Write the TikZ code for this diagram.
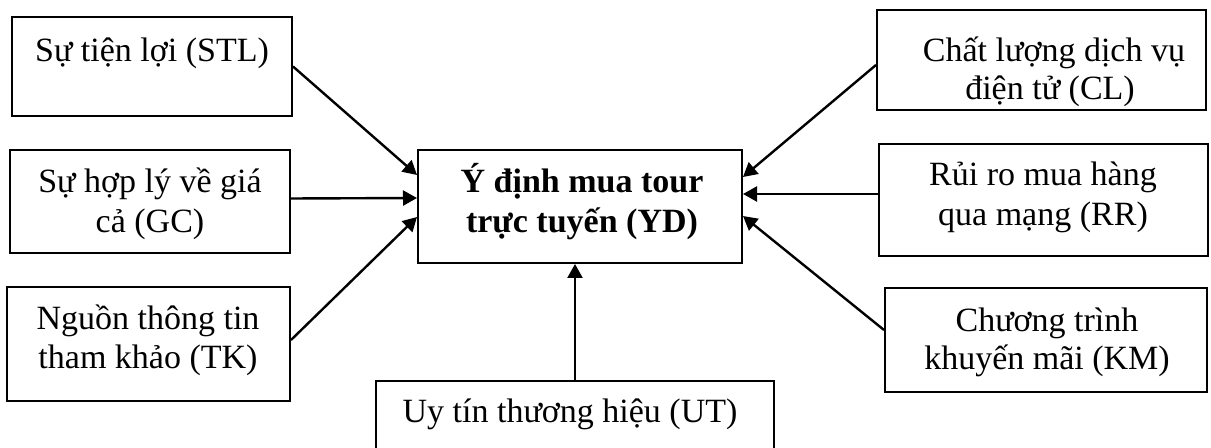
\documentclass[tikz,border=0pt]{standalone}
\usepackage{fontspec}
\setmainfont{Liberation Serif}
\usetikzlibrary{arrows.meta,calc}
\begin{document}
\begin{tikzpicture}[x=0.5pt,y=-0.5pt,
  box/.style={draw,line width=1pt,inner sep=0pt},
  lbl/.style={anchor=base,inner sep=0pt,font=\fontsize{17}{20}\selectfont},
  conn/.style={-{Triangle[length=7pt,width=7.5pt]},line width=1.2pt}]
\useasboundingbox (0,0) rectangle (1211,448);
\clip (0,0) rectangle (1211,448);
\fill[white] (0,0) rectangle (1211,448);

% factor boxes
\node[box,minimum width=140pt,minimum height=49.5pt] (stl) at (152,66.5) {};
\node[box,minimum width=140pt,minimum height=51.5pt] (gc) at (150,201.5) {};
\node[box,minimum width=141.5pt,minimum height=57pt] (tk) at (148.5,344) {};
\node[box,minimum width=164.5pt,minimum height=50pt] (cl) at (1041.5,60) {};
\node[box,minimum width=164.5pt,minimum height=56pt] (rr) at (1043.5,200) {};
\node[box,minimum width=161pt,minimum height=52pt] (km) at (1046,340) {};
\node[box,minimum width=199pt,minimum height=50pt] (ut) at (575,431) {};
% outcome box
\node[box,minimum width=162pt,minimum height=56.5pt] (yd) at (580,206.5) {};

% labels
\node[lbl] (stl-t) at (152,62) {Sự tiện lợi (STL)};
\node[lbl] (gc-t1) at (150,193) {Sự hợp lý về giá};
\node[lbl] (gc-t2) at (150,233) {cả (GC)};
\node[lbl] (tk-t1) at (148,330) {Nguồn thông tin};
\node[lbl] (tk-t2) at (148,369) {tham khảo (TK)};
\node[lbl] (cl-t1) at (1054,62) {Chất lượng dịch vụ};
\node[lbl] (cl-t2) at (1050,100) {điện tử (CL)};
\node[lbl] (rr-t1) at (1043,186) {Rủi ro mua hàng};
\node[lbl] (rr-t2) at (1043,226) {qua mạng (RR)};
\node[lbl] (km-t1) at (1047,332) {Chương trình};
\node[lbl] (km-t2) at (1047,370) {khuyến mãi (KM)};
\node[lbl] (ut-t) at (570,423) {Uy tín thương hiệu (UT)};
\node[lbl,font=\fontsize{17}{20}\selectfont\bfseries] (yd-t1) at (582,193) {Ý định mua tour};
\node[lbl,font=\fontsize{17}{20}\selectfont\bfseries] (yd-t2) at (582,233) {trực tuyến (YD)};

% influences on the intention
\draw[conn] (stl.east) -- ($(yd.west)+(0,-31.5)$);
\draw[conn] ($(gc.east)+(0,-3)$) -- ($(yd.west)+(0,-8.5)$);
\draw[conn] ($(tk.east)+(0,-4)$) -- ($(yd.west)+(0,10.5)$);
\draw[conn] ($(cl.west)+(0,5)$) -- ($(yd.east)+(0,-29.5)$);
\draw[conn] ($(rr.west)+(0,-6)$) -- ($(yd.east)+(0,-12.5)$);
\draw[conn] ($(km.west)+(0,-10)$) -- ($(yd.east)+(0,9.5)$);
\draw[conn] (ut.north) -- (ut.north |- yd.south);
\end{tikzpicture}
\end{document}
